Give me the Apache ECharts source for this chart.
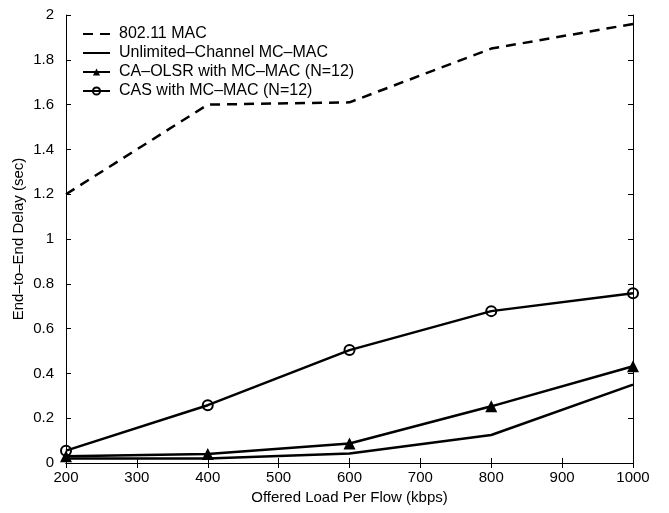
<!DOCTYPE html>
<html><head><meta charset="utf-8">
<script src="https://cdn.jsdelivr.net/npm/echarts@6/dist/echarts.min.js"></script>
<style>html,body{margin:0;padding:0;background:#fff}#c{width:669px;height:513px}</style>
</head><body><div id="c"></div>
<script>
var loads = [200, 400, 600, 800, 1000];
var mac80211 = [1.2, 1.6, 1.61, 1.85, 1.96];
var unlimited = [0.02, 0.02, 0.042, 0.125, 0.35];
var caOlsr = [0.03, 0.04, 0.087, 0.253, 0.432];
var cas = [0.055, 0.258, 0.504, 0.678, 0.758];
var seriesNames = ['802.11 MAC', 'Unlimited\u2013Channel MC\u2013MAC', 'CA\u2013OLSR with MC\u2013MAC (N=12)', 'CAS with MC\u2013MAC (N=12)'];

function pairs(v){ return loads.map(function(x,i){ return [x, v[i]]; }); }
var font = 'Liberation Sans, Arial, Helvetica, sans-serif';
var chart = echarts.init(document.getElementById('c'));
var axisLine = {show:true, lineStyle:{color:'#000', width:1}};
var tick = {show:true, inside:true, length:5, lineStyle:{color:'#000'}};
var hidden = {color:'rgba(0,0,0,0)', borderColor:'rgba(0,0,0,0)', borderWidth:0};
chart.setOption({
  animation:false,
  backgroundColor:'#fff',
  grid:{left:66, right:36, top:15, bottom:50},
  legend:{
    orient:'vertical', left:77, top:21, itemGap:3, itemWidth:27, itemHeight:9,
    data:[
      {name:seriesNames[0], itemStyle:hidden},
      {name:seriesNames[1], itemStyle:hidden},
      {name:seriesNames[2]},
      {name:seriesNames[3]}
    ],
    textStyle:{fontFamily:font, fontSize:16, color:'#000', padding:[0,0,0,4]}
  },
  xAxis:[{
    type:'value', min:200, max:1000, interval:100, position:'bottom',
    axisLine:axisLine, axisTick:tick, splitLine:{show:false},
    axisLabel:{fontFamily:font, fontSize:15, color:'#000', margin:7,
      formatter:function(v){ return String(v); }},
    name:'Offered Load Per Flow (kbps)', nameLocation:'middle', nameGap:27,
    nameMoveOverlap:false,
    nameTextStyle:{fontFamily:font, fontSize:15, color:'#000'}
  },{
    type:'value', min:200, max:1000, interval:100, position:'top',
    axisLine:axisLine, axisTick:tick, axisLabel:{show:false}, splitLine:{show:false}
  }],
  yAxis:[{
    type:'value', min:0, max:2, interval:0.2, position:'left',
    axisLine:axisLine, axisTick:tick, splitLine:{show:false},
    axisLabel:{fontFamily:font, fontSize:15, color:'#000', margin:12,
      formatter:function(v){ return String(Math.round(v*10)/10); }},
    name:'End\u2013to\u2013End Delay (sec)', nameLocation:'middle', nameGap:40,
    nameMoveOverlap:false,
    nameTextStyle:{fontFamily:font, fontSize:15, color:'#000'}
  },{
    type:'value', min:0, max:2, interval:0.2, position:'right',
    axisLine:axisLine, axisTick:tick, axisLabel:{show:false}, splitLine:{show:false}
  }],
  series:[
    {name:seriesNames[0], type:'line', data:pairs(mac80211), symbol:'none',
     lineStyle:{color:'#000', width:2.5, type:[10,7]}, itemStyle:{color:'#000'}},
    {name:seriesNames[1], type:'line', data:pairs(unlimited), symbol:'none',
     lineStyle:{color:'#000', width:2.5}, itemStyle:{color:'#000'}},
    {name:seriesNames[2], type:'line', data:pairs(caOlsr), symbol:'triangle', symbolSize:12,
     lineStyle:{color:'#000', width:2.5}, itemStyle:{color:'#000'}},
    {name:seriesNames[3], type:'line', data:pairs(cas), symbol:'circle', symbolSize:10,
     lineStyle:{color:'#000', width:2.5}, itemStyle:{color:'rgba(0,0,0,0)', borderColor:'#000', borderWidth:2}}
  ]
});
</script></body></html>
